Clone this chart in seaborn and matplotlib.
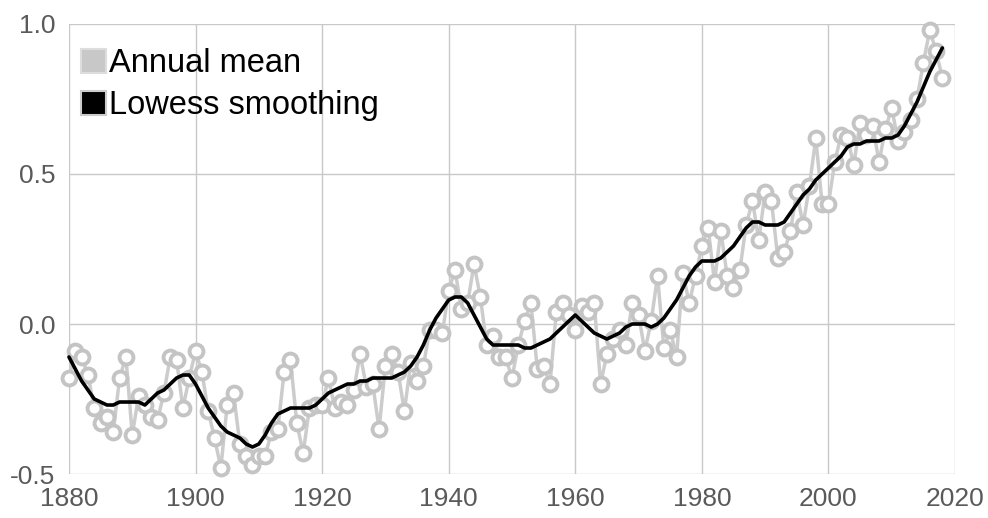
import numpy as np
import pandas as pd
import seaborn as sns
import matplotlib.pyplot as plt
from matplotlib.patches import Rectangle

# annual global temperature anomaly (deg C)
years = list(range(1880, 2019))
annual_mean = [
    -0.18, -0.09, -0.11, -0.17, -0.28, -0.33, -0.31, -0.36, -0.18, -0.11,
    -0.37, -0.24, -0.27, -0.31, -0.32, -0.23, -0.11, -0.12, -0.28, -0.18,
    -0.09, -0.16, -0.29, -0.38, -0.48, -0.27, -0.23, -0.40, -0.44, -0.47,
    -0.44, -0.44, -0.36, -0.35, -0.16, -0.12, -0.33, -0.43, -0.28, -0.27,
    -0.27, -0.18, -0.28, -0.26, -0.27, -0.22, -0.10, -0.21, -0.20, -0.35,
    -0.14, -0.10, -0.16, -0.29, -0.13, -0.19, -0.14, -0.02, -0.02, -0.03,
    0.11, 0.18, 0.05, 0.07, 0.20, 0.09, -0.07, -0.04, -0.11, -0.11,
    -0.18, -0.07, 0.01, 0.07, -0.15, -0.14, -0.20, 0.04, 0.07, 0.03,
    -0.02, 0.06, 0.04, 0.07, -0.20, -0.10, -0.05, -0.02, -0.07, 0.07,
    0.03, -0.09, 0.01, 0.16, -0.08, -0.02, -0.11, 0.17, 0.07, 0.16,
    0.26, 0.32, 0.14, 0.31, 0.16, 0.12, 0.18, 0.33, 0.41, 0.28,
    0.44, 0.41, 0.22, 0.24, 0.31, 0.44, 0.33, 0.46, 0.62, 0.40,
    0.40, 0.54, 0.63, 0.62, 0.53, 0.67, 0.63, 0.66, 0.54, 0.65,
    0.72, 0.61, 0.64, 0.68, 0.75, 0.87, 0.98, 0.91, 0.82,
]
lowess = [
    -0.11, -0.15, -0.19, -0.22, -0.25, -0.26, -0.27, -0.27, -0.26, -0.26,
    -0.26, -0.26, -0.27, -0.25, -0.23, -0.22, -0.20, -0.18, -0.17, -0.17,
    -0.20, -0.24, -0.28, -0.31, -0.34, -0.36, -0.37, -0.38, -0.40, -0.41,
    -0.40, -0.37, -0.33, -0.30, -0.29, -0.28, -0.28, -0.28, -0.28, -0.27,
    -0.25, -0.23, -0.22, -0.21, -0.20, -0.20, -0.19, -0.19, -0.18, -0.18,
    -0.18, -0.18, -0.17, -0.16, -0.14, -0.11, -0.07, -0.02, 0.02, 0.05,
    0.08, 0.09, 0.09, 0.07, 0.03, -0.01, -0.05, -0.07, -0.07, -0.07,
    -0.07, -0.07, -0.08, -0.08, -0.07, -0.06, -0.05, -0.03, -0.01, 0.01,
    0.03, 0.01, -0.01, -0.03, -0.04, -0.05, -0.04, -0.03, -0.01, 0.00,
    0.00, 0.00, -0.01, 0.00, 0.02, 0.05, 0.08, 0.12, 0.16, 0.19,
    0.21, 0.21, 0.21, 0.22, 0.24, 0.26, 0.29, 0.32, 0.34, 0.34,
    0.33, 0.33, 0.33, 0.34, 0.37, 0.40, 0.43, 0.45, 0.48, 0.50,
    0.52, 0.54, 0.56, 0.59, 0.60, 0.60, 0.61, 0.61, 0.61, 0.62,
    0.62, 0.63, 0.66, 0.70, 0.74, 0.79, 0.84, 0.88, 0.92,
]

x_ticks = [1880, 1900, 1920, 1940, 1960, 1980, 2000, 2020]
y_ticks = [-0.5, 0.0, 0.5, 1.0]

df = pd.DataFrame({'year': years, 'annual': annual_mean, 'lowess': lowess})

sns.set_style('white')
plt.rcParams['font.family'] = ['Liberation Sans', 'DejaVu Sans']

fig = plt.figure(figsize=(9.88, 5.18), dpi=100)
ax = fig.add_axes([0.0698, 0.0849, 0.8968, 0.8688])

sns.lineplot(data=df, x='year', y='annual', ax=ax, color='#cccccc', linewidth=2.5,
             marker='o', markersize=10, markerfacecolor='white',
             markeredgecolor='#c4c4c4', markeredgewidth=2.8, clip_on=False, zorder=3)
sns.lineplot(data=df, x='year', y='lowess', ax=ax, color='black', linewidth=2.6,
             clip_on=False, zorder=4)

ax.set_xlim(1880, 2020)
ax.set_ylim(-0.5, 1.0)
ax.set_xticks(x_ticks)
ax.set_yticks(y_ticks)
ax.set_yticklabels([f'{v:.1f}' for v in y_ticks])
ax.grid(True, color='#c8c8c8', linewidth=1)
ax.set_axisbelow(True)
for s in ax.spines.values():
    s.set_visible(False)
ax.tick_params(length=0, labelsize=19, labelcolor='#5a5a5a')
ax.tick_params(axis='x', pad=9)
ax.tick_params(axis='y', pad=10)
ax.set_xlabel('')
ax.set_ylabel('')

# legend with square swatches
handles = [Rectangle((0, 0), 1, 1, facecolor='#c8c8c8', edgecolor='#dddddd', linewidth=1.5),
           Rectangle((0, 0), 1, 1, facecolor='black', edgecolor='#cccccc', linewidth=1.5)]
leg = ax.legend(handles, ['Annual mean', 'Lowess smoothing'], loc='upper left',
                frameon=False, fontsize=23.5, handlelength=0.75, handleheight=0.75,
                handletextpad=0.08, borderaxespad=0.2, labelspacing=0.35,
                bbox_to_anchor=(-0.008, 0.99))
for t in leg.get_texts():
    t.set_color('black')

fig.savefig('out.png', dpi=100)
